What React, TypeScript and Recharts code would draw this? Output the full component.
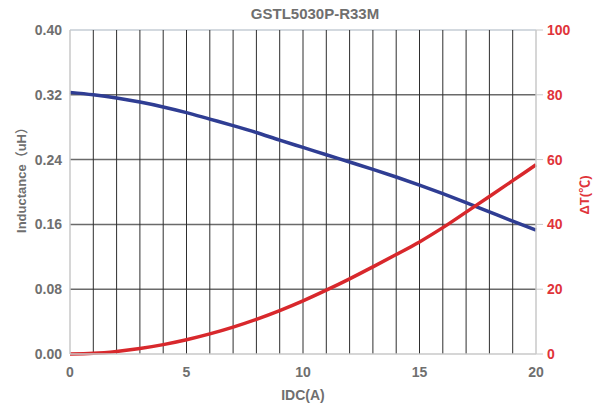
import React from "react";
import {
  ComposedChart,
  Line,
  XAxis,
  YAxis,
  ReferenceLine,
} from "recharts";

const title = "GSTL5030P-R33M";
const current = [0, 1, 2, 3, 4, 5, 6, 7, 8, 9, 10, 11, 12, 13, 14, 15, 16, 17, 18, 19, 20];
const inductance = [
  0.323, 0.32, 0.316, 0.311, 0.305, 0.298, 0.29, 0.282, 0.2735, 0.264, 0.255,
  0.246, 0.237, 0.228, 0.2185, 0.2085, 0.198, 0.187, 0.1755, 0.164, 0.153,
];
const tempRise = [
  0, 0.2, 0.8, 1.7, 2.9, 4.4, 6.2, 8.3, 10.7, 13.4, 16.4, 19.7, 23.2, 26.9,
  30.7, 34.6, 39.0, 43.8, 48.6, 53.5, 58.4,
];
const xTicks = [0, 5, 10, 15, 20];
const leftTicks = [0, 0.08, 0.16, 0.24, 0.32, 0.4];
const rightTicks = [0, 20, 40, 60, 80, 100];
const verticalGrid = [1, 2, 3, 4, 5, 6, 7, 8, 9, 10, 11, 12, 13, 14, 15, 16, 17, 18, 19];
const horizontalGrid = [0.08, 0.16, 0.24, 0.32];

const data = current.map((c, i) => ({
  current: c,
  inductance: inductance[i],
  tempRise: tempRise[i],
}));

const FONT = "'Liberation Sans', Arial, 'Noto Sans CJK SC', sans-serif";
const GREY = "#6f6f6f";
const RED = "#e0343a";

export default function App() {
  return (
    <div
      style={{
        position: "absolute",
        left: 0,
        top: 0,
        width: 593,
        height: 408,
        background: "#fff",
        fontFamily: FONT,
      }}
    >
      <div
        style={{
          position: "absolute",
          left: 215,
          width: 200,
          top: 5,
          textAlign: "center",
          fontSize: 15,
          fontWeight: "bold",
          color: GREY,
          fontFamily: FONT,
        }}
      >
        {title}
      </div>
      <ComposedChart
        width={593}
        height={408}
        data={data}
        margin={{ top: 30, right: 0, left: 0, bottom: 0 }}
      >
        <XAxis
          dataKey="current"
          type="number"
          domain={[0, 20]}
          ticks={xTicks}
          height={54}
          tickLine={false}
          tickMargin={7}
          axisLine={{ stroke: "#c8c8c8", strokeWidth: 1.5 }}
          tick={{ fill: GREY, fontSize: 14, fontWeight: "bold", fontFamily: FONT }}
          label={{
            value: "IDC(A)",
            position: "insideBottom",
            offset: 8,
            fill: GREY,
            fontSize: 14,
            fontWeight: "bold",
            fontFamily: FONT,
          }}
        />
        <YAxis
          yAxisId="left"
          type="number"
          domain={[0, 0.4]}
          ticks={leftTicks}
          width={70}
          tickLine={false}
          axisLine={{ stroke: "#c8c8c8", strokeWidth: 1.5 }}
          tickFormatter={(v: number) => v.toFixed(2)}
          tick={{ fill: GREY, fontSize: 14, fontWeight: "bold", fontFamily: FONT }}
          label={{
            content: (props: any) => {
              const vb = props.viewBox;
              const x = vb.x + 21;
              const y = vb.y + vb.height / 2 - 15;
              return (
                <text
                  x={x}
                  y={y}
                  transform={`rotate(-90, ${x}, ${y})`}
                  textAnchor="middle"
                  dominantBaseline="central"
                  fill={GREY}
                  fontSize={13}
                  fontWeight="bold"
                  fontFamily={FONT}
                >
                  Inductance（uH）
                </text>
              );
            },
          }}
        />
        <YAxis
          yAxisId="right"
          orientation="right"
          type="number"
          domain={[0, 100]}
          ticks={rightTicks}
          width={57}
          tickSize={7}
          tickMargin={4}
          tickLine={{ stroke: "#c8c8c8" }}
          axisLine={{ stroke: "#c8c8c8", strokeWidth: 1.5 }}
          tick={{ fill: RED, fontSize: 14, fontWeight: "bold", fontFamily: FONT }}
          label={{
            content: (props: any) => {
              const vb = props.viewBox;
              const x = vb.x + 48;
              const y = vb.y + vb.height / 2 + 3;
              return (
                <text
                  x={x}
                  y={y}
                  transform={`rotate(-90, ${x}, ${y})`}
                  textAnchor="middle"
                  dominantBaseline="central"
                  fill={RED}
                  fontSize={13}
                  fontWeight="bold"
                  fontFamily={FONT}
                >
                  ΔT(℃)
                </text>
              );
            },
          }}
        />
        <ReferenceLine yAxisId="left" y={0.4} stroke="#c4ccd4" strokeWidth={1.5} />
        {horizontalGrid.map((v) => (
          <ReferenceLine key={`h${v}`} yAxisId="left" y={v} stroke="#6a6a6a" strokeWidth={1.5} />
        ))}
        {verticalGrid.map((v) => (
          <ReferenceLine key={`v${v}`} yAxisId="left" x={v} stroke="#2e2e2e" strokeWidth={1} />
        ))}
        <Line
          yAxisId="left"
          dataKey="inductance"
          type="monotone"
          stroke="#2f3d93"
          strokeWidth={3.5}
          dot={false}
          isAnimationActive={false}
        />
        <Line
          yAxisId="right"
          dataKey="tempRise"
          type="monotone"
          stroke="#d8282c"
          strokeWidth={3.5}
          dot={false}
          isAnimationActive={false}
        />
      </ComposedChart>
    </div>
  );
}
